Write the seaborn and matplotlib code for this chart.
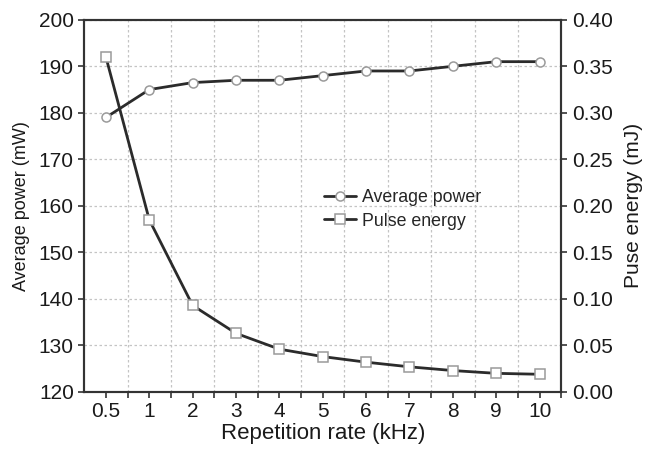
import numpy as np
import matplotlib
matplotlib.use("Agg")
import matplotlib.pyplot as plt
import seaborn as sns

rates = ["0.5", "1", "2", "3", "4", "5", "6", "7", "8", "9", "10"]
avg_power = [179, 185, 186.5, 187, 187, 188, 189, 189, 190, 191, 191]
pulse_energy = [0.360, 0.185, 0.093, 0.063, 0.046, 0.038, 0.032, 0.027, 0.023, 0.020, 0.019]
left_ticks = [120, 130, 140, 150, 160, 170, 180, 190, 200]
right_ticks = [0.00, 0.05, 0.10, 0.15, 0.20, 0.25, 0.30, 0.35, 0.40]

sns.set_style("ticks")
plt.rcParams['font.family'] = ['Liberation Sans', 'DejaVu Sans']

fig, ax = plt.subplots(figsize=(6.58, 4.5), dpi=100)
fig.subplots_adjust(left=0.128, right=0.853, top=0.956, bottom=0.129)
ax2 = ax.twinx()

line_col = "#2b2b2b"
edge_col = "#9a9a9a"

sns.lineplot(x=rates, y=avg_power, ax=ax, sort=False, color=line_col, linewidth=2.0,
             marker="o", markersize=6.5, markerfacecolor="white", markeredgecolor=edge_col,
             markeredgewidth=1.1, label="Average power", legend=False)
sns.lineplot(x=rates, y=pulse_energy, ax=ax2, sort=False, color=line_col, linewidth=2.0,
             marker="s", markersize=7.5, markerfacecolor="white", markeredgecolor=edge_col,
             markeredgewidth=1.1, label="Pulse energy", legend=False)

n = len(rates)
ax.set_xlim(-0.5, n - 0.5)
ax.set_ylim(left_ticks[0], left_ticks[-1])
ax2.set_ylim(right_ticks[0], right_ticks[-1])
ax.set_yticks(left_ticks)
ax2.set_yticks(right_ticks)
ax2.set_yticklabels([f"{v:.2f}" for v in right_ticks])

ax.set_xticks(np.arange(n) + 0.5, minor=True)
ax.grid(which="minor", axis="x", color="#c4c4c4", linestyle=(0, (2, 2)), linewidth=0.9)
ax.grid(which="major", axis="y", color="#c4c4c4", linestyle=(0, (2, 2)), linewidth=0.9)
ax.grid(which="major", axis="x", visible=False)
ax.set_axisbelow(True)

for a in (ax, ax2):
    for s in a.spines.values():
        s.set_color("#333333")
        s.set_linewidth(1.5)
ax.tick_params(axis="both", which="both", direction="out", length=4, width=1.2,
               colors="#333333", labelcolor="#1a1a1a", labelsize=15)
ax.tick_params(axis="x", which="minor", length=4)
ax2.tick_params(axis="y", direction="out", length=4, width=1.2,
                colors="#333333", labelcolor="#1a1a1a", labelsize=15)

ax.set_xlabel("Repetition rate (kHz)", fontsize=16, color="#1a1a1a", labelpad=1)
ax.set_ylabel("Average power (mW)", fontsize=13, color="#1a1a1a", labelpad=6)
ax2.set_ylabel("Puse energy (mJ)", fontsize=15, color="#1a1a1a", labelpad=8)

h1, l1 = ax.get_legend_handles_labels()
h2, l2 = ax2.get_legend_handles_labels()
ax2.legend(h1 + h2, l1 + l2, loc="center left", bbox_to_anchor=(0.47, 0.49),
           frameon=False, fontsize=12.8, handlelength=1.8, handletextpad=0.3,
           labelspacing=0.35)

fig.savefig("out.png", dpi=100)
